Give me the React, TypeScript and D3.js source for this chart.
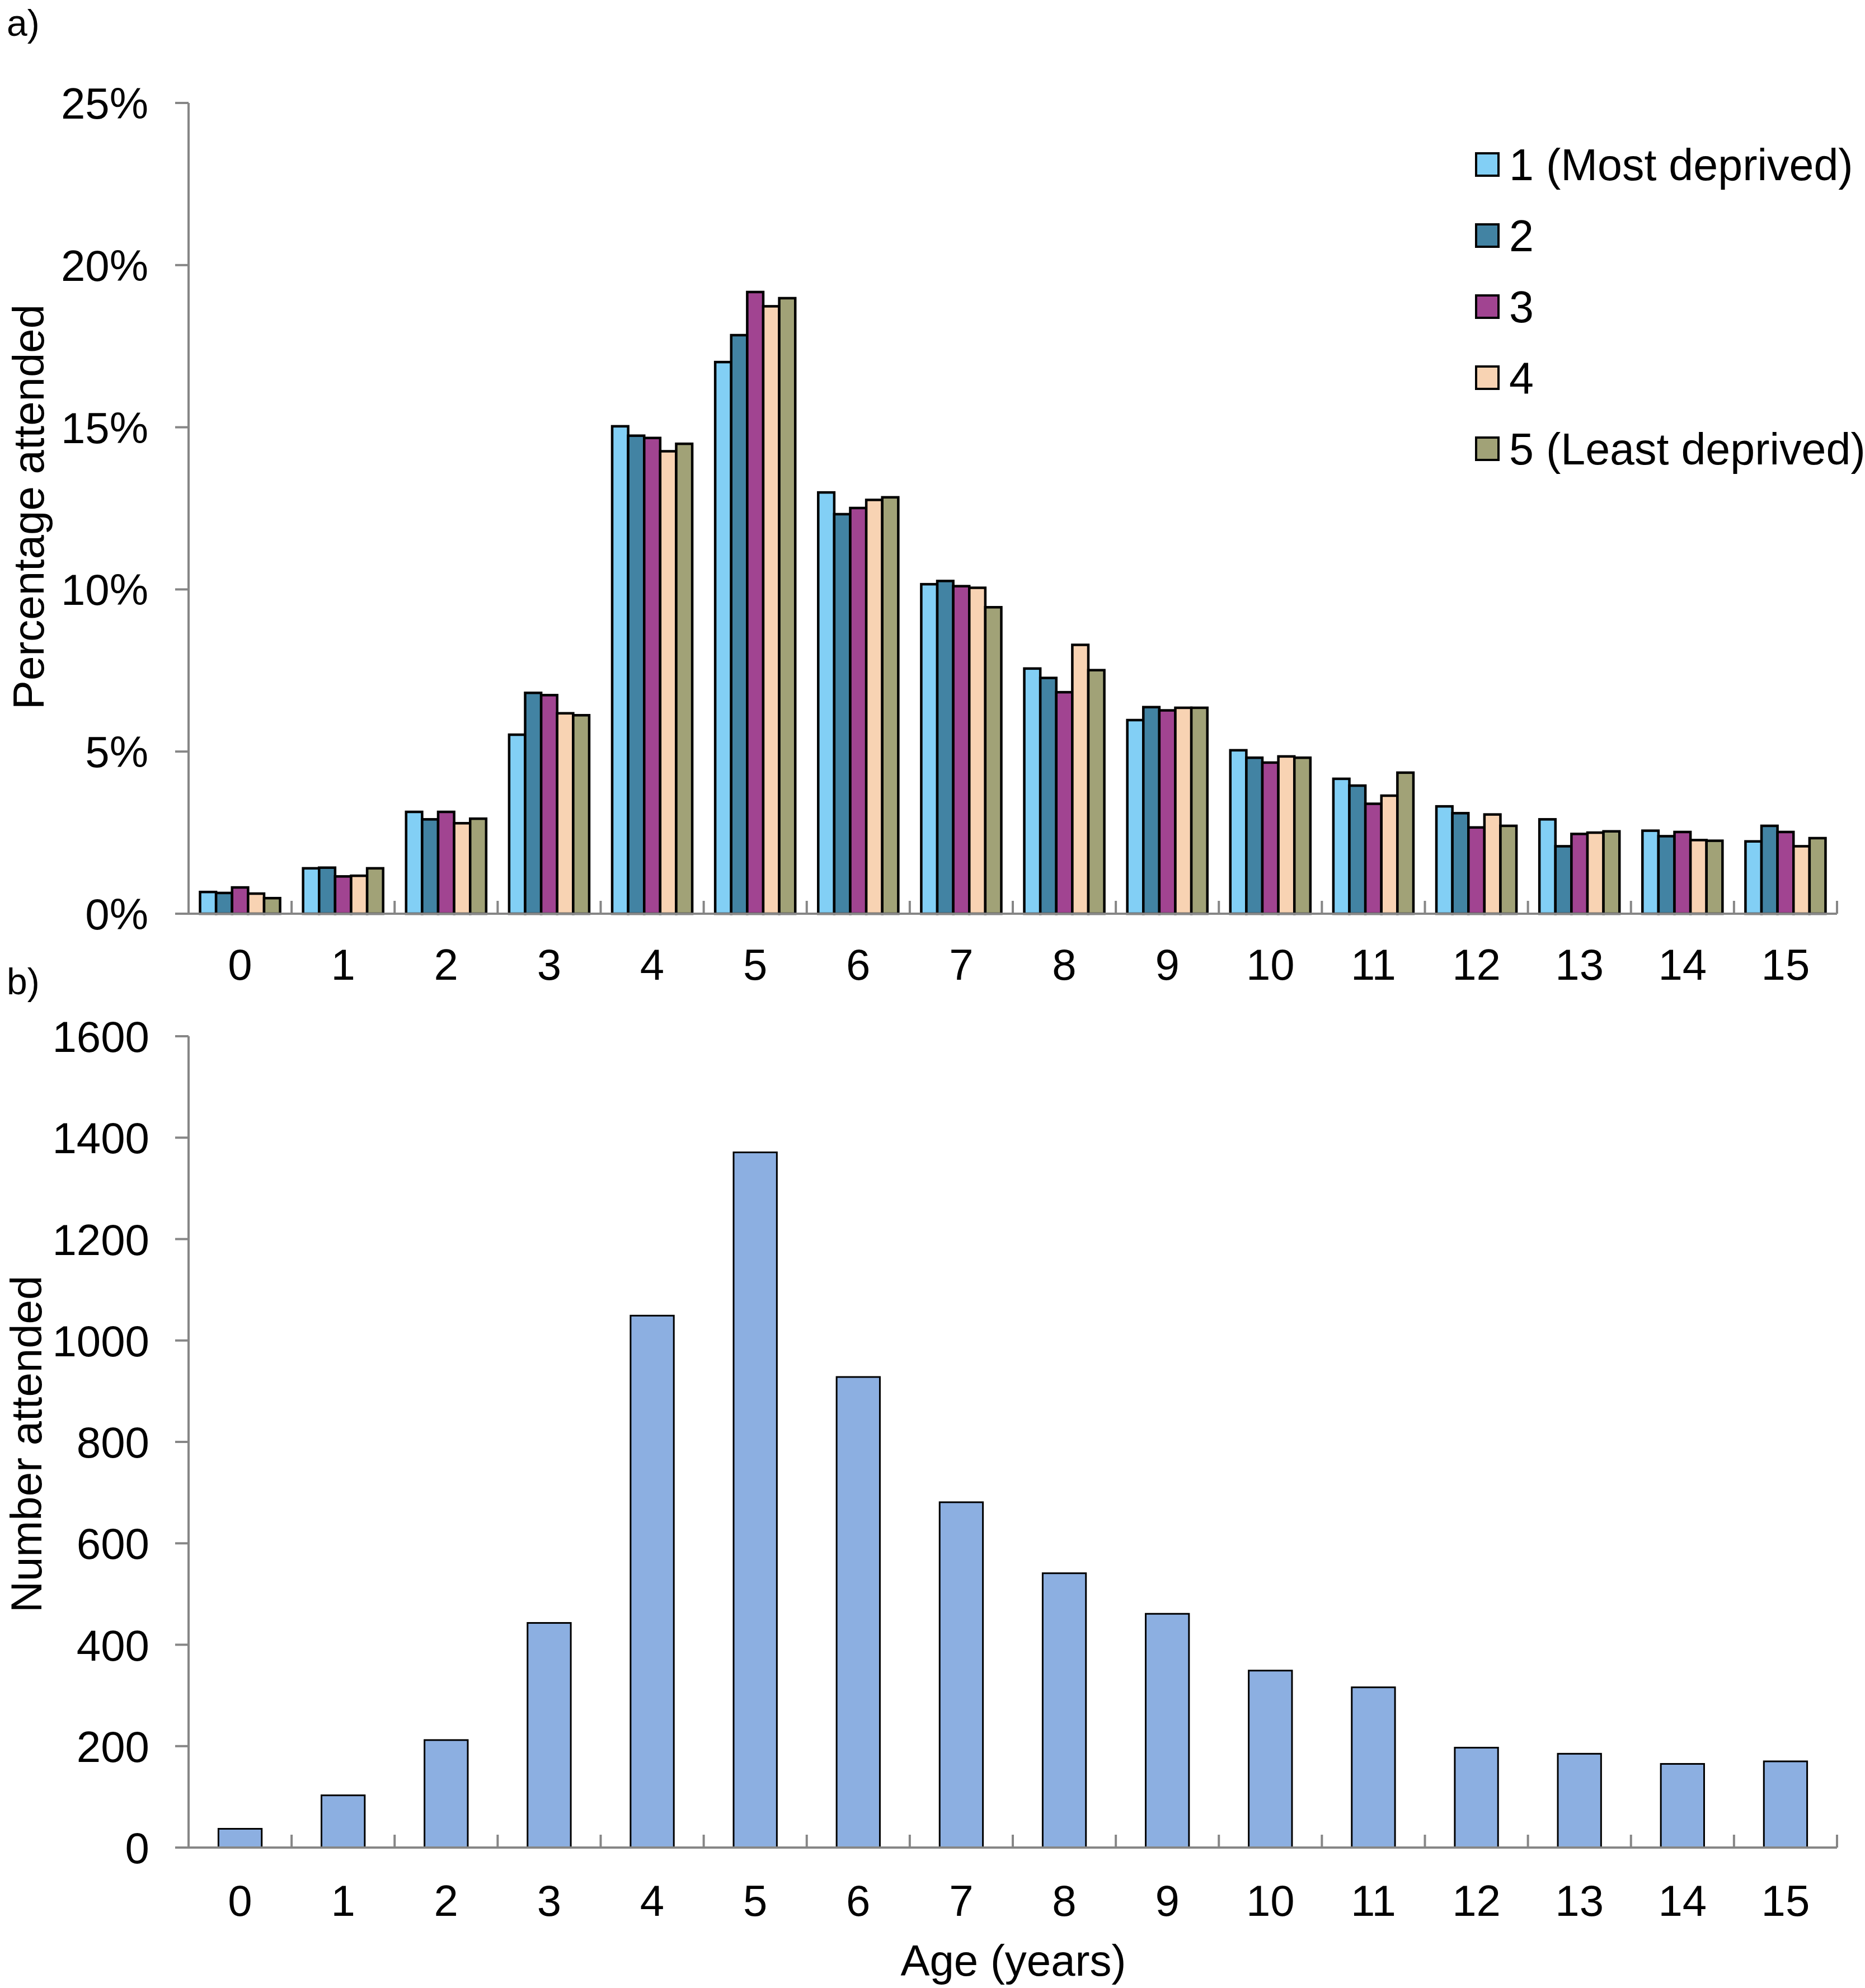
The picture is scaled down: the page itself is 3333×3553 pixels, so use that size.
import React from "react";
import * as d3 from "d3";

const ages = ["0","1","2","3","4","5","6","7","8","9","10","11","12","13","14","15"];
const seriesNames = ["1 (Most deprived)", "2", "3", "4", "5 (Least deprived)"];
const seriesColors = ["#82CFF5", "#4283A3", "#A14491", "#F8D3B3", "#A1A277"];
const q1 = [0.67,1.40,3.14,5.52,15.03,17.01,12.99,10.16,7.56,5.97,5.04,4.16,3.31,2.91,2.56,2.23];
const q2 = [0.64,1.42,2.91,6.81,14.74,17.84,12.32,10.26,7.27,6.37,4.81,3.95,3.10,2.08,2.39,2.71];
const q3 = [0.81,1.15,3.14,6.74,14.67,19.17,12.51,10.10,6.83,6.27,4.66,3.39,2.66,2.46,2.52,2.52];
const q4 = [0.62,1.17,2.79,6.18,14.26,18.73,12.76,10.05,8.29,6.35,4.85,3.64,3.06,2.50,2.27,2.08];
const q5 = [0.48,1.40,2.93,6.12,14.49,18.98,12.84,9.45,7.51,6.35,4.81,4.35,2.71,2.54,2.25,2.33];
const pctTicks = [0, 5, 10, 15, 20, 25];
const counts = [37,103,212,443,1049,1371,928,681,541,461,349,316,197,185,165,170];
const countTicks = [0,200,400,600,800,1000,1200,1400,1600];
const barColorB = "#8CAFE1";

const FONT = "'Liberation Sans', Arial, sans-serif";
const FS = 78;
const AXIS = "#868686";

export default function App() {
  const W = 3333, H = 3553;
  const x0 = 337, x1 = 3283;
  const seriesData = [q1, q2, q3, q4, q5];

  // Top chart
  const yA = d3.scaleLinear().domain([0, 25]).range([1633, 184]);
  const xA = d3.scaleBand<string>().domain(ages).range([x0, x1]).paddingInner(0.223).paddingOuter(0.1115);
  const xInner = d3.scaleBand<number>().domain([0,1,2,3,4]).range([0, xA.bandwidth()]).padding(0);
  const stepA = (x1 - x0) / ages.length;

  // Bottom chart
  const yB = d3.scaleLinear().domain([0, 1600]).range([3302, 1852]);
  const xB = d3.scaleBand<string>().domain(ages).range([x0, x1]).paddingInner(0.58).paddingOuter(0.29);

  const boundaries = d3.range(1, ages.length + 1).map(i => x0 + i * stepA);

  return (
    <svg width={W} height={H} style={{ position: "absolute", left: 0, top: 0, background: "#fff" }} fontFamily={FONT}>
      <rect x={0} y={0} width={W} height={H} fill="#fff" />
      {/* Panel labels */}
      <text x={12} y={64} fontSize={66}>a)</text>
      <text x={12} y={1777} fontSize={66}>b)</text>

      {/* ===== Top chart ===== */}
      {seriesData.map((s, si) => (
        <g key={"s" + si}>
          {s.map((v, i) => (
            <rect key={i}
              x={(xA(ages[i]) as number) + (xInner(si) as number)}
              y={yA(v)}
              width={xInner.bandwidth()}
              height={yA(0) - yA(v)}
              fill={seriesColors[si]} stroke="#000" strokeWidth={4.5} />
          ))}
        </g>
      ))}
      {/* y axis */}
      <line x1={x0} x2={x0} y1={yA(25)} y2={yA(0)} stroke={AXIS} strokeWidth={4} />
      {pctTicks.map(t => (
        <g key={"pt" + t}>
          <line x1={x0 - 24} x2={x0} y1={yA(t)} y2={yA(t)} stroke={AXIS} strokeWidth={4} />
          <text x={265} y={yA(t)} dy="0.36em" textAnchor="end" fontSize={FS}>{t + "%"}</text>
        </g>
      ))}
      {/* x axis */}
      <line x1={x0 - 24} x2={x1} y1={yA(0)} y2={yA(0)} stroke={AXIS} strokeWidth={4} />
      {boundaries.map((b, i) => (
        <line key={"tb" + i} x1={b} x2={b} y1={yA(0)} y2={yA(0) - 23} stroke={AXIS} strokeWidth={4} />
      ))}
      {ages.map(a => (
        <text key={"xa" + a} x={(xA(a) as number) + xA.bandwidth() / 2} y={1751} textAnchor="middle" fontSize={FS}>{a}</text>
      ))}
      <text transform={`translate(78,906) rotate(-90)`} textAnchor="middle" fontSize={FS}>Percentage attended</text>

      {/* Legend */}
      {seriesNames.map((n, i) => (
        <g key={"lg" + i} transform={`translate(2638,${294 + i * 127})`}>
          <rect x={0} y={-20} width={40} height={40} fill={seriesColors[i]} stroke="#000" strokeWidth={4} />
          <text x={59} y={0} dy="0.36em" fontSize={79}>{n}</text>
        </g>
      ))}

      {/* ===== Bottom chart ===== */}
      {counts.map((v, i) => (
        <rect key={"b" + i}
          x={xB(ages[i]) as number} y={yB(v)} width={xB.bandwidth()} height={yB(0) - yB(v)}
          fill={barColorB} stroke="#000" strokeWidth={3} />
      ))}
      <line x1={x0} x2={x0} y1={yB(1600)} y2={yB(0)} stroke={AXIS} strokeWidth={4} />
      {countTicks.map(t => (
        <g key={"ct" + t}>
          <line x1={x0 - 24} x2={x0} y1={yB(t)} y2={yB(t)} stroke={AXIS} strokeWidth={4} />
          <text x={267} y={yB(t)} dy="0.36em" textAnchor="end" fontSize={FS}>{t}</text>
        </g>
      ))}
      <line x1={x0 - 24} x2={x1} y1={yB(0)} y2={yB(0)} stroke={AXIS} strokeWidth={4} />
      {boundaries.map((b, i) => (
        <line key={"tbb" + i} x1={b} x2={b} y1={yB(0)} y2={yB(0) - 23} stroke={AXIS} strokeWidth={4} />
      ))}
      {ages.map(a => (
        <text key={"xb" + a} x={(xB(a) as number) + xB.bandwidth() / 2} y={3424} textAnchor="middle" fontSize={FS}>{a}</text>
      ))}
      <text transform={`translate(74,2581) rotate(-90)`} textAnchor="middle" fontSize={FS}>Number attended</text>
      <text x={1811} y={3531} textAnchor="middle" fontSize={FS}>Age (years)</text>
    </svg>
  );
}
